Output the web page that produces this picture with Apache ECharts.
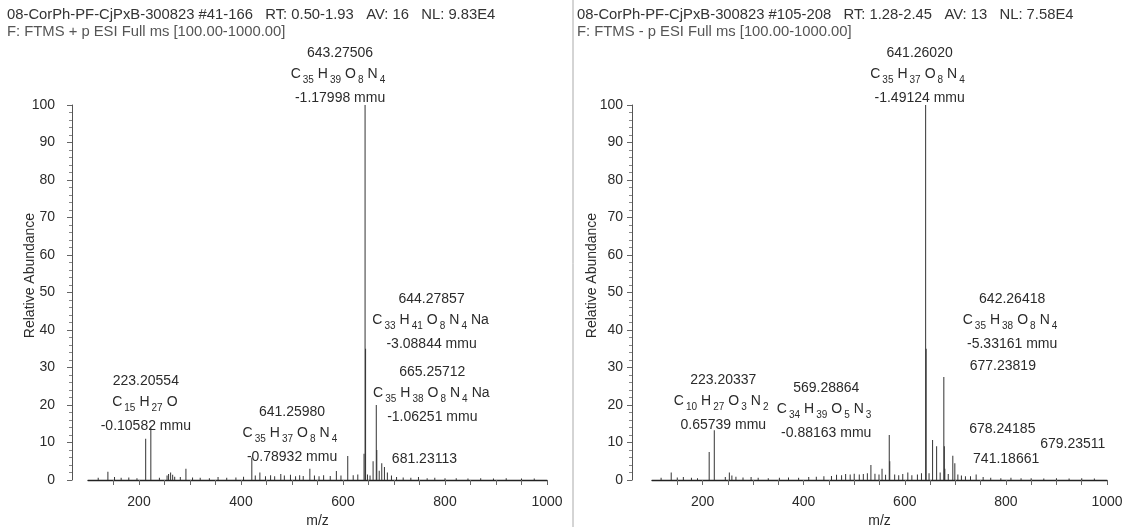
<!DOCTYPE html>
<html>
<head>
<meta charset="utf-8">
<script src="https://cdn.jsdelivr.net/npm/echarts@6/dist/echarts.min.js"></script>
<style>
  html, body { margin: 0; padding: 0; background: #fff; }
  #chart { width: 1126px; height: 527px; }
</style>
</head>
<body>
<div id="chart"></div>
<script>
// ---- Spectrum headers ----
const leftHeader = [
  '08-CorPh-PF-CjPxB-300823 #41-166   RT: 0.50-1.93   AV: 16   NL: 9.83E4',
  'F: FTMS + p ESI Full ms [100.00-1000.00]'
];
const rightHeader = [
  '08-CorPh-PF-CjPxB-300823 #105-208   RT: 1.28-2.45   AV: 13   NL: 7.58E4',
  'F: FTMS - p ESI Full ms [100.00-1000.00]'
];

// ---- Axis ticks ----
const mzTicks = [200, 400, 600, 800, 1000];
const abundanceTicks = [0, 10, 20, 30, 40, 50, 60, 70, 80, 90, 100];

// ---- Annotated peaks: [m/z label, formula, mass error, relative abundance] ----
const leftLabeled = [
  ['223.20554', 'C15 H27 O', '-0.10582 mmu', 14],
  ['641.25980', 'C35 H37 O8 N4', '-0.78932 mmu', 7],
  ['643.27506', 'C35 H39 O8 N4', '-1.17998 mmu', 100],
  ['644.27857', 'C33 H41 O8 N4 Na', '-3.08844 mmu', 35],
  ['665.25712', 'C35 H38 O8 N4 Na', '-1.06251 mmu', 20],
  ['681.23113', '', '', 3.5]
];
const rightLabeled = [
  ['223.20337', 'C10 H27 O3 N2', '0.65739 mmu', 13.3],
  ['569.28864', 'C34 H39 O5 N3', '-0.88163 mmu', 12],
  ['641.26020', 'C35 H37 O8 N4', '-1.49124 mmu', 100],
  ['642.26418', 'C35 H38 O8 N4', '-5.33161 mmu', 35],
  ['677.23819', '', '', 27.5],
  ['678.24185', '', '', 9],
  ['679.23511', '', '', 3],
  ['741.18661', '', '', 1.5]
];

// ---- Other centroid peaks: [m/z, relative abundance] ----
const leftPeaks = [
  [120, 0.6], [139, 2.2], [152, 0.8], [165, 0.6], [180, 0.7], [196, 0.5],
  [213.1, 11], [240, 0.6], [255, 1.2], [258, 1.6], [262, 2.0], [266, 1.4],
  [270, 0.9], [281, 0.8], [292, 3.0], [305, 0.7], [320, 0.6], [338, 0.5],
  [355, 0.8], [372, 0.6], [390, 0.7], [405, 0.9], [421.2, 6.0], [428, 1.2],
  [437, 2.0], [448, 1.0], [458, 1.3], [466, 1.0], [478, 1.6], [485, 1.2],
  [497, 1.4], [507, 1.0], [515, 1.3], [522, 1.1], [535, 3.0], [544, 1.2],
  [553, 1.0], [562, 1.3], [575, 1.1], [587, 2.4], [596, 1.2], [609.3, 6.4],
  [620, 1.3], [629, 1.5], [648, 1.5], [653, 1.2], [659, 5], [666.26, 8],
  [671, 2.5], [676, 4.5], [687, 2], [695, 1.2], [705, 0.8], [718, 0.7],
  [733, 0.6], [748, 0.8], [765, 0.5], [780, 0.6], [800, 0.5], [822, 0.5],
  [845, 0.4], [870, 0.5], [895, 0.4], [920, 0.5], [950, 0.4], [975, 0.4]
];
const rightPeaks = [
  [118, 0.6], [138, 2.0], [150, 0.7], [162, 0.8], [178, 0.6], [190, 0.5],
  [213.1, 7.5], [245, 0.8], [253, 2.0], [258, 1.2], [266, 0.9], [280, 0.7],
  [296, 0.8], [310, 0.6], [330, 0.5], [352, 0.6], [370, 0.7], [390, 0.6],
  [410, 0.8], [425, 0.9], [440, 1.0], [455, 1.1], [465, 1.4], [475, 1.3],
  [483, 1.6], [492, 1.5], [500, 1.7], [510, 1.5], [518, 1.6], [526, 1.8],
  [533, 4.0], [541, 1.7], [549, 1.5], [555, 3.0], [562, 1.4], [570.29, 5],
  [580, 1.5], [588, 1.3], [596, 1.6], [606, 2.0], [614, 1.3], [625, 1.5],
  [633, 1.8], [648, 1.8], [655, 10.7], [663, 9], [670, 2], [686, 1.6],
  [695, 6.5], [699, 4.5], [705, 1.5], [712, 1.2], [720, 1.0], [730, 1.0],
  [755, 0.8], [770, 0.6], [790, 0.5], [810, 0.6], [830, 0.5], [850, 0.5],
  [875, 0.4], [900, 0.5], [925, 0.4], [950, 0.5], [975, 0.4]
];

// Label placement relative to each peak top (px)
const leftLabelShift = {
  '223.20554': [-5, 13], '641.25980': [-72, 17], '643.27506': [-25, 7],
  '644.27857': [66, 9], '665.25712': [56, 26], '681.23113': [40, 6]
};
const rightLabelShift = {
  '223.20337': [9, 9], '569.28864': [-63, 12], '641.26020': [-6, 7],
  '642.26418': [86, 9], '677.23819': [59, 3], '678.24185': [58, -3],
  '679.23511': [128, -11], '741.18661': [30, -1]
};

const FONT = '"Liberation Sans", Arial, sans-serif';
const INK = '#2b2b2b';

// Formula text -> rich text with lowered element counts
function formulaRich(f) {
  return f.split(' ').map(tok => {
    const m = tok.match(/^([A-Z][a-z]?)(\d*)$/);
    return '{e|' + m[1] + '}' + (m[2] ? '{s|' + m[2] + '}' : '{g| }');
  }).join('') + '{h| }';
}

const richStyles = {
  m: { fontSize: 14, lineHeight: 21, color: INK, fontFamily: FONT, align: 'center', verticalAlign: 'top' },
  e: { fontSize: 14, lineHeight: 19, color: INK, fontFamily: FONT, align: 'center', verticalAlign: 'top' },
  s: { fontSize: 10, lineHeight: 10, color: INK, fontFamily: FONT, align: 'center', verticalAlign: 'top', padding: [8, 4, 6, 2] },
  g: { fontSize: 6, lineHeight: 19, color: INK, fontFamily: FONT, align: 'center', verticalAlign: 'top' },
  h: { fontSize: 1, lineHeight: 24, color: INK, fontFamily: FONT, align: 'center', verticalAlign: 'top' }
};

function buildData(labeled, peaks, shifts) {
  const items = peaks.map(p => ({ value: [p[0], p[1]] }));
  labeled.forEach(([mass, formula, err, rel]) => {
    const lines = ['{m|' + mass + '}'];
    if (formula) lines.push(formulaRich(formula));
    if (err) lines.push('{m|' + err + '}');
    items.push({
      value: [parseFloat(mass), rel],
      label: {
        show: true,
        position: 'top',
        distance: 0,
        offset: shifts[mass],
        formatter: lines.join('\n'),
        rich: richStyles
      }
    });
  });
  return items.sort((a, b) => a.value[0] - b.value[0]);
}

function xAxisFor(gridIndex) {
  return {
    type: 'value', gridIndex, min: 100, max: 1000, interval: 50,
    name: 'm/z', nameLocation: 'middle', nameGap: 31,
    nameTextStyle: { fontSize: 14, color: INK, fontFamily: FONT },
    axisLine: { lineStyle: { color: '#222', width: 1.3 } },
    axisTick: { show: true, length: 5, lineStyle: { color: '#666' } },
    axisLabel: {
      fontSize: 14, color: INK, fontFamily: FONT, margin: 15,
      showMinLabel: false,
      formatter: v => (mzTicks.indexOf(v) >= 0 ? String(v) : '')
    },
    splitLine: { show: false }
  };
}

function yAxisFor(gridIndex, offset, margin, gap) {
  return {
    type: 'value', gridIndex, min: 0, max: 100, interval: 10, offset,
    name: 'Relative Abundance', nameLocation: 'middle', nameGap: gap,
    nameMoveOverlap: false,
    nameTextStyle: { fontSize: 14, color: INK, fontFamily: FONT, padding: [0, 0, 0, 34] },
    axisLine: { show: true, lineStyle: { color: '#555' } },
    axisTick: { show: true, length: 5, lineStyle: { color: '#666' } },
    minorTick: { show: true, splitNumber: 5, length: 3, lineStyle: { color: '#888' } },
    axisLabel: {
      fontSize: 14, color: INK, fontFamily: FONT, margin,
      formatter: v => (abundanceTicks.indexOf(v) >= 0 ? String(v) : '')
    },
    splitLine: { show: false }
  };
}

function headerText(lines, x) {
  return [
    { type: 'text', left: x, top: 7, style: { text: lines[0], font: '14.8px ' + FONT, fill: '#333' } },
    { type: 'text', left: x, top: 24, style: { text: lines[1], font: '14.8px ' + FONT, fill: '#555' } }
  ];
}

const chart = echarts.init(document.getElementById('chart'), null, { renderer: 'canvas' });
chart.setOption({
  animation: false,
  backgroundColor: '#fff',
  grid: [
    { left: 88, right: 579, top: 105, bottom: 47, outerBoundsMode: 'none', containLabel: false },
    { left: 652, right: 19, top: 105, bottom: 47, outerBoundsMode: 'none', containLabel: false }
  ],
  xAxis: [xAxisFor(0), xAxisFor(1)],
  yAxis: [yAxisFor(0, 16, 17, 35), yAxisFor(1, 20, 9, 33)],
  series: [
    {
      type: 'bar', xAxisIndex: 0, yAxisIndex: 0, barWidth: 1,
      itemStyle: { color: '#333' },
      data: buildData(leftLabeled, leftPeaks, leftLabelShift)
    },
    {
      type: 'bar', xAxisIndex: 1, yAxisIndex: 1, barWidth: 1,
      itemStyle: { color: '#333' },
      data: buildData(rightLabeled, rightPeaks, rightLabelShift)
    }
  ],
  graphic: [
    ...headerText(leftHeader, 7),
    ...headerText(rightHeader, 577),
    { type: 'line', shape: { x1: 573, y1: 0, x2: 573, y2: 527 }, style: { stroke: '#aaa', lineWidth: 1 } }
  ]
});
</script>
</body>
</html>
